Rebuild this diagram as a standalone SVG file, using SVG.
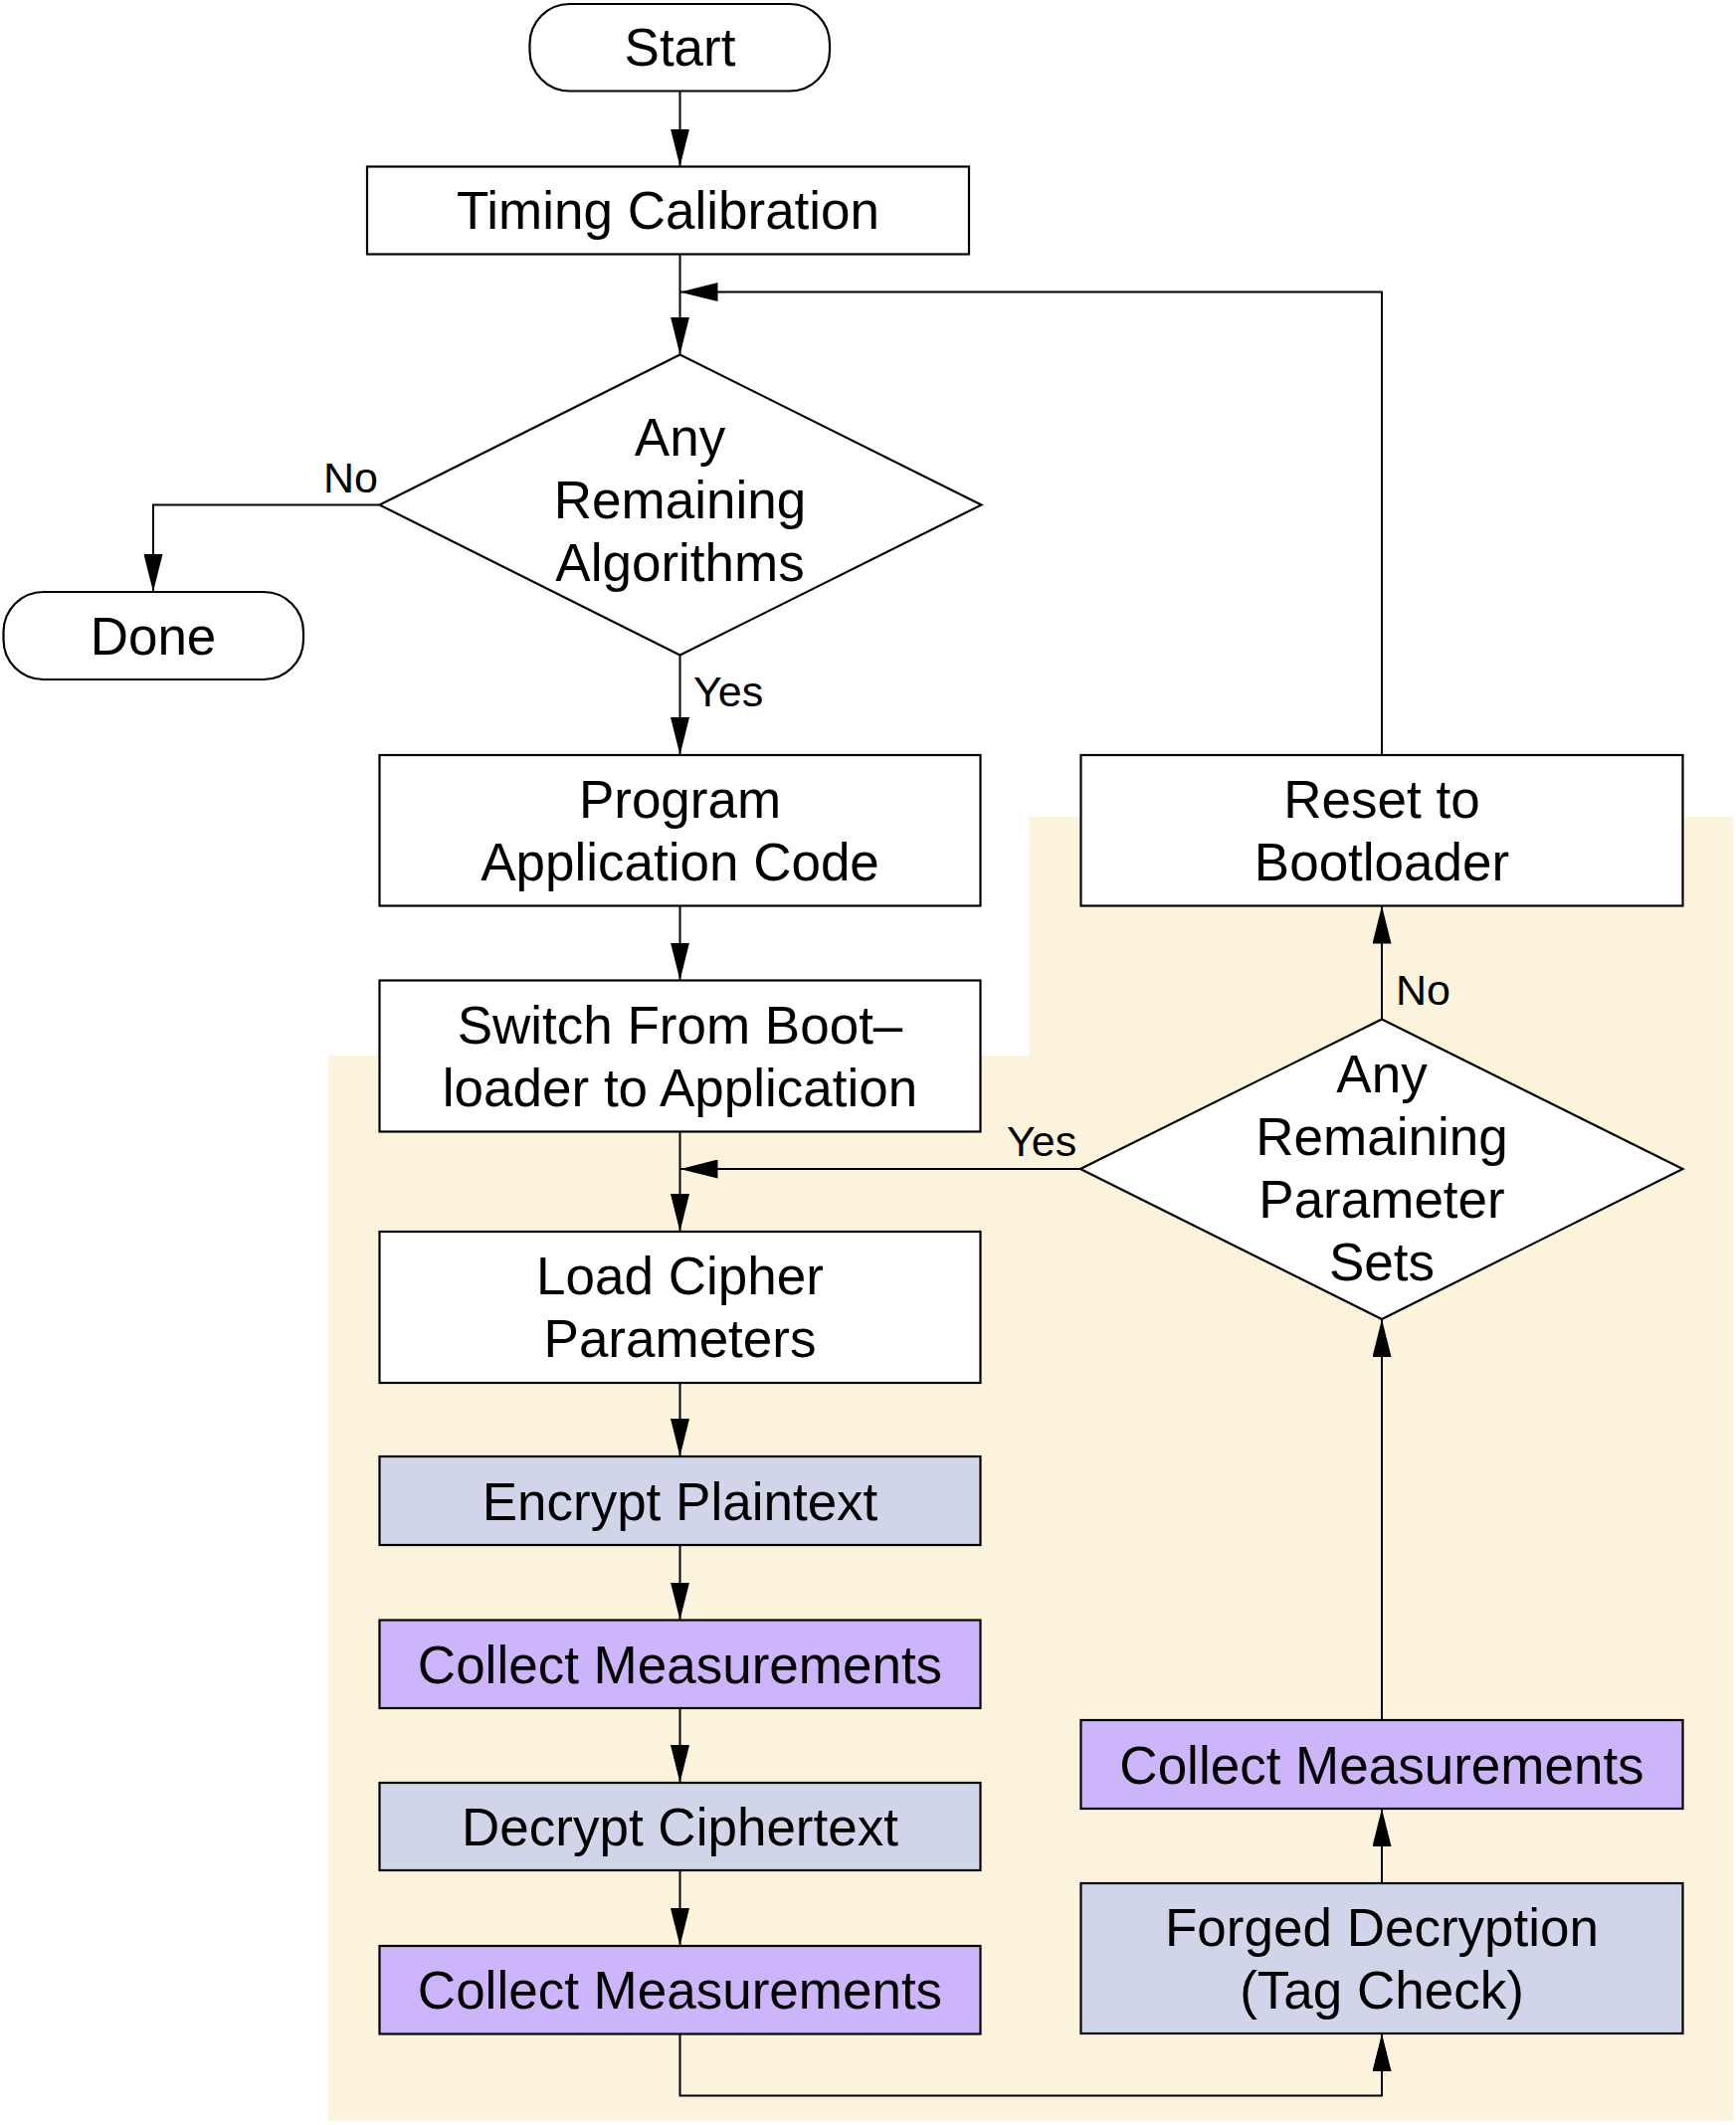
<svg xmlns="http://www.w3.org/2000/svg" width="1745" height="2136" viewBox="0 0 1745 2136">
<style>
.box{stroke:#000;stroke-width:2.2;fill:#fff}
.enc{fill:#D1D5EA}
.col{fill:#CDB5FB}
.t{font-family:"Liberation Sans",Arial,sans-serif;font-size:53px;text-anchor:middle;fill:#000}
.lbl{font-family:"Liberation Sans",Arial,sans-serif;font-size:43px;fill:#000}
.c{stroke:#000;stroke-width:2;fill:none;marker-end:url(#ah)}
.cn{stroke:#000;stroke-width:2;fill:none}
</style>
<defs>
<marker id="ah" markerUnits="userSpaceOnUse" markerWidth="38" markerHeight="19" refX="38" refY="9.5" orient="auto">
<path d="M0,0 L38,9.5 L0,19 z" fill="#000"/>
</marker>
</defs>
<polygon id="bg" points="330,1061 1035,1061 1035,821 1742,821 1742,2132 330,2132" fill="#FCF3DC"/>
<g id="connectors">
<path class="c" d="M683.5,91.5 V167.5"/>
<path class="c" d="M683.5,255.5 V356.5"/>
<path class="c" d="M1389,759 V293.5 H683.5"/>
<path class="c" d="M381.5,507.5 H154 V595"/>
<path class="c" d="M683.5,658.5 V759"/>
<path class="c" d="M683.5,910.5 V985.5"/>
<path class="c" d="M683.5,1137.5 V1238"/>
<path class="c" d="M1086,1175 H683.5"/>
<path class="c" d="M1389,1024.5 V910.5"/>
<path class="c" d="M683.5,1390 V1464"/>
<path class="c" d="M683.5,1553 V1628.5"/>
<path class="c" d="M683.5,1717 V1792"/>
<path class="c" d="M683.5,1880 V1956"/>
<path class="c" d="M683.5,2044.5 V2106.5 H1389 V2044"/>
<path class="c" d="M1389,1893 V1818"/>
<path class="c" d="M1389,1729 V1326"/>
<text class="lbl" x="325" y="494.5">No</text>
<text class="lbl" x="697" y="709.5">Yes</text>
<text class="lbl" x="1403" y="1010">No</text>
<text class="lbl" x="1012" y="1162">Yes</text>
</g>
<g id="start">
<rect class="box" x="532.5" y="4" width="301.5" height="87.5" rx="40" ry="40"/>
<text class="t" x="683.5" y="66">Start</text>
</g>
<g id="timing">
<rect class="box" x="369" y="167.5" width="605" height="88"/>
<text class="t" x="671.5" y="230">Timing Calibration</text>
</g>
<g id="algos">
<polygon class="box" points="683.5,356.5 986.5,507.5 683.5,658.5 381.5,507.5"/>
<text class="t" x="683.5" y="458">Any</text>
<text class="t" x="683.5" y="521">Remaining</text>
<text class="t" x="683.5" y="584">Algorithms</text>
</g>
<g id="done">
<rect class="box" x="3.5" y="595" width="301.5" height="88" rx="40" ry="40"/>
<text class="t" x="154" y="658">Done</text>
</g>
<g id="program">
<rect class="box" x="381.5" y="759" width="604" height="151.5"/>
<text class="t" x="683.5" y="822">Program</text>
<text class="t" x="683.5" y="885">Application Code</text>
</g>
<g id="switch">
<rect class="box" x="381.5" y="985.5" width="604" height="152"/>
<text class="t" x="683.5" y="1048.5">Switch From Boot–</text>
<text class="t" x="683.5" y="1111.5">loader to Application</text>
</g>
<g id="load">
<rect class="box" x="381.5" y="1238" width="604" height="152"/>
<text class="t" x="683.5" y="1301">Load Cipher</text>
<text class="t" x="683.5" y="1364">Parameters</text>
</g>
<g id="encrypt">
<rect class="box enc" x="381.5" y="1464" width="604" height="89"/>
<text class="t" x="683.5" y="1527.5">Encrypt Plaintext</text>
</g>
<g id="collect1">
<rect class="box col" x="381.5" y="1628.5" width="604" height="88.5"/>
<text class="t" x="683.5" y="1692">Collect Measurements</text>
</g>
<g id="decrypt">
<rect class="box enc" x="381.5" y="1792" width="604" height="88"/>
<text class="t" x="683.5" y="1855">Decrypt Ciphertext</text>
</g>
<g id="collect2">
<rect class="box col" x="381.5" y="1956" width="604" height="88.5"/>
<text class="t" x="683.5" y="2019">Collect Measurements</text>
</g>
<g id="reset">
<rect class="box" x="1086.5" y="759" width="605" height="151.5"/>
<text class="t" x="1389" y="822">Reset to</text>
<text class="t" x="1389" y="885">Bootloader</text>
</g>
<g id="params">
<polygon class="box" points="1389,1024.5 1691.5,1175 1389,1326 1086,1175"/>
<text class="t" x="1389" y="1098">Any</text>
<text class="t" x="1389" y="1161">Remaining</text>
<text class="t" x="1389" y="1224">Parameter</text>
<text class="t" x="1389" y="1287">Sets</text>
</g>
<g id="collect3">
<rect class="box col" x="1086.5" y="1729" width="605" height="89"/>
<text class="t" x="1389" y="1792.5">Collect Measurements</text>
</g>
<g id="forged">
<rect class="box enc" x="1086.5" y="1893" width="605" height="151"/>
<text class="t" x="1389" y="1956">Forged Decryption</text>
<text class="t" x="1389" y="2019">(Tag Check)</text>
</g>
</svg>
